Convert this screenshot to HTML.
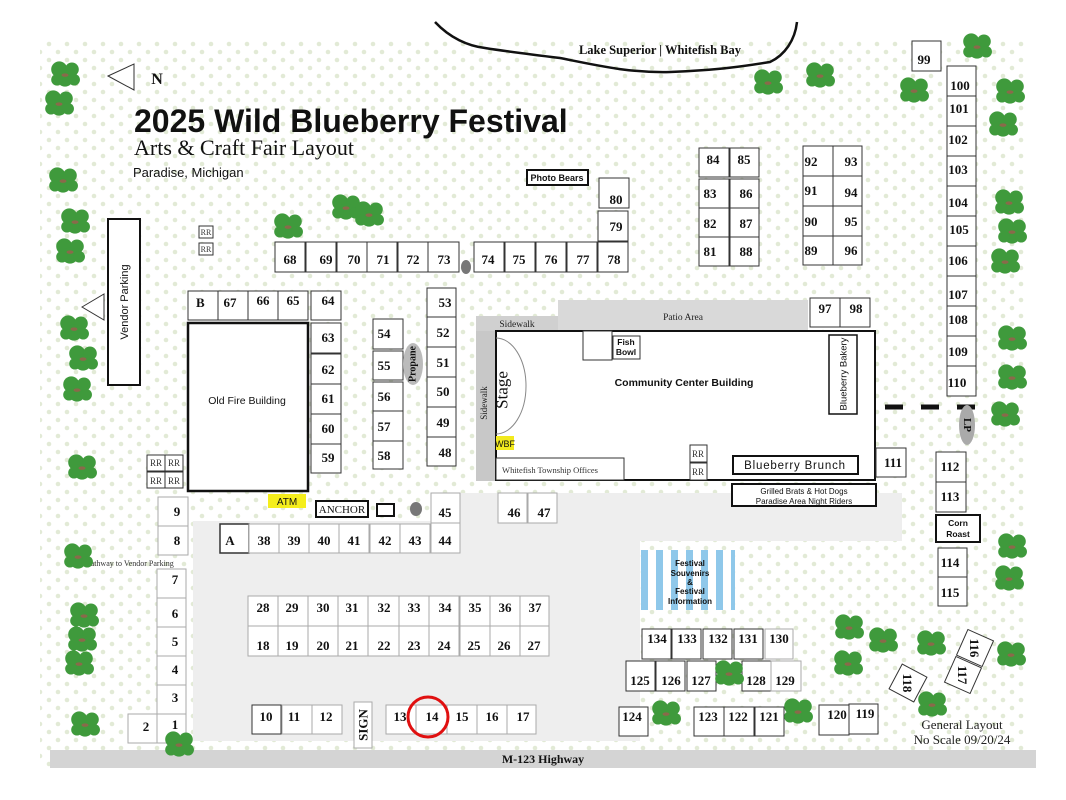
<!DOCTYPE html>
<html><head><meta charset="utf-8"><style>
html,body{margin:0;padding:0;background:#fff}
svg{display:block}
.b{fill:#fff;stroke:#333;stroke-width:1}
.l{fill:#fff;stroke:#aaa;stroke-width:1}
.k{fill:#fff;stroke:#111;stroke-width:2}
.t{font-family:"Liberation Serif",serif;font-weight:bold;font-size:13px;text-anchor:middle;fill:#111}
.s{font-family:"Liberation Sans",sans-serif;font-size:10px;text-anchor:middle;fill:#111}
.r{font-family:"Liberation Serif",serif;font-size:9px;text-anchor:middle;fill:#333}
</style></head><body>
<svg width="1066" height="800" viewBox="0 0 1066 800" xmlns="http://www.w3.org/2000/svg">
<defs>
<pattern id="dots" width="18" height="16" patternUnits="userSpaceOnUse">
<circle cx="4" cy="4" r="2.3" fill="#e2ead6"/><circle cx="13" cy="12" r="2.3" fill="#e2ead6"/>
</pattern>
<g id="tree"><g transform="scale(1.15)"><circle cx="-5" cy="-4" r="7" fill="#3f9a3c"/><circle cx="6" cy="-4" r="6" fill="#3f9a3c"/><circle cx="0" cy="4" r="7" fill="#3f9a3c"/><circle cx="8" cy="5" r="5" fill="#3f9a3c"/><circle cx="-7" cy="5" r="5" fill="#3f9a3c"/><ellipse cx="0" cy="1" rx="3" ry="1.5" fill="#8a6a4a"/></g></g>
</defs>
<rect x="40" y="40" width="985" height="728" fill="url(#dots)"/>
<!-- paved -->
<rect x="455" y="493" width="447" height="48" fill="#eeeeee"/>
<rect x="193" y="521" width="447" height="220" fill="#eeeeee"/>
<rect x="50" y="750" width="986" height="18" fill="#d4d4d4"/>
<text x="543" y="759" class="t" style="font-size:12px" dominant-baseline="central">M-123 Highway</text>
<!-- lake -->
<path d="M435,22 C450,38 468,46 485,48 C510,52 535,55 560,58 C600,66 630,73 670,72 C720,70 745,66 770,62 C785,55 795,40 797,22" fill="none" stroke="#111" stroke-width="2.5"/>
<text x="660" y="54" class="t" style="font-size:12.5px">Lake Superior | Whitefish Bay</text>
<!-- north -->
<path d="M108,76 L134,64 L134,90 Z" fill="#fff" stroke="#333"/>
<text x="157" y="84" class="t" style="font-size:16px">N</text>
<text x="134" y="132" style="font-family:'Liberation Sans',sans-serif;font-weight:bold;font-size:32px;fill:#111">2025  Wild Blueberry Festival</text>
<text x="134" y="155" style="font-family:'Liberation Serif',serif;font-size:22px;fill:#111">Arts &amp; Craft Fair Layout</text>
<text x="133" y="177" style="font-family:'Liberation Sans',sans-serif;font-size:13px;fill:#111">Paradise, Michigan</text>
<!-- vendor parking -->
<rect x="108" y="219" width="32" height="166" fill="#fff" stroke="#111" stroke-width="2"/>
<text transform="translate(128,302) rotate(-90)" class="s" style="font-size:11px">Vendor Parking</text>
<path d="M82,307 L104,294 L104,320 Z" fill="#fff" stroke="#333"/>
<rect x="199" y="226" width="14" height="12" class="b"/><text x="206" y="235" class="r" style="font-size:8px">RR</text>
<rect x="199" y="243" width="14" height="12" class="b"/><text x="206" y="252" class="r" style="font-size:8px">RR</text>
<!-- photo bears -->
<rect x="527" y="170" width="61" height="15" class="k"/><text x="557" y="181" class="s" style="font-weight:bold;font-size:9px">Photo Bears</text>
<!-- row 68-78 -->
<g>
<rect x="275" y="242" width="30" height="30" class="b"/><text x="290" y="264" class="t">68</text>
<rect x="306" y="242" width="30" height="30" class="b"/><text x="326" y="264" class="t">69</text>
<rect x="337" y="242" width="30" height="30" class="b"/><text x="354" y="264" class="t">70</text>
<rect x="367" y="242" width="30" height="30" class="b"/><text x="383" y="264" class="t">71</text>
<rect x="398" y="242" width="30" height="30" class="b"/><text x="413" y="264" class="t">72</text>
<rect x="428" y="242" width="31" height="30" class="b"/><text x="444" y="264" class="t">73</text>
<ellipse cx="466" cy="267" rx="5" ry="7" fill="#777"/>
<rect x="474" y="242" width="30" height="30" class="b"/><text x="488" y="264" class="t">74</text>
<rect x="505" y="242" width="30" height="30" class="b"/><text x="519" y="264" class="t">75</text>
<rect x="536" y="242" width="30" height="30" class="b"/><text x="551" y="264" class="t">76</text>
<rect x="567" y="242" width="30" height="30" class="b"/><text x="583" y="264" class="t">77</text>
<rect x="598" y="242" width="30" height="30" class="b"/><text x="614" y="264" class="t">78</text>
<rect x="598" y="211" width="30" height="30" class="b"/><text x="616" y="231" class="t">79</text>
<rect x="599" y="178" width="30" height="30" class="b"/><text x="616" y="204" class="t">80</text>
</g>
<!-- 81-96 -->
<rect x="699" y="148" width="30" height="29" class="b"/><text x="713" y="164" class="t">84</text>
<rect x="730" y="148" width="29" height="29" class="b"/><text x="744" y="164" class="t">85</text>
<rect x="699" y="179" width="30" height="29" class="b"/><text x="710" y="198" class="t">83</text>
<rect x="730" y="179" width="29" height="29" class="b"/><text x="746" y="198" class="t">86</text>
<rect x="699" y="208" width="30" height="29" class="b"/><text x="710" y="228" class="t">82</text>
<rect x="730" y="208" width="29" height="29" class="b"/><text x="746" y="228" class="t">87</text>
<rect x="699" y="237" width="30" height="29" class="b"/><text x="710" y="256" class="t">81</text>
<rect x="730" y="237" width="29" height="29" class="b"/><text x="746" y="256" class="t">88</text>
<rect x="803" y="146" width="30" height="30" class="b"/><text x="811" y="166" class="t">92</text>
<rect x="833" y="146" width="29" height="30" class="b"/><text x="851" y="166" class="t">93</text>
<rect x="803" y="176" width="30" height="30" class="b"/><text x="811" y="195" class="t">91</text>
<rect x="833" y="176" width="29" height="30" class="b"/><text x="851" y="197" class="t">94</text>
<rect x="803" y="206" width="30" height="30" class="b"/><text x="811" y="226" class="t">90</text>
<rect x="833" y="206" width="29" height="30" class="b"/><text x="851" y="226" class="t">95</text>
<rect x="803" y="236" width="30" height="29" class="b"/><text x="811" y="255" class="t">89</text>
<rect x="833" y="236" width="29" height="29" class="b"/><text x="851" y="255" class="t">96</text>
<!-- 99-110 -->
<rect x="912" y="41" width="29" height="30" class="b"/><text x="924" y="64" class="t">99</text>
<g>
<rect x="947" y="66" width="29" height="30" class="b"/><text x="960" y="90" class="t">100</text>
<rect x="947" y="96" width="29" height="30" class="b"/><text x="959" y="113" class="t">101</text>
<rect x="947" y="126" width="29" height="30" class="b"/><text x="958" y="144" class="t">102</text>
<rect x="947" y="156" width="29" height="30" class="b"/><text x="958" y="174" class="t">103</text>
<rect x="947" y="186" width="29" height="30" class="b"/><text x="958" y="207" class="t">104</text>
<rect x="947" y="216" width="29" height="30" class="b"/><text x="959" y="234" class="t">105</text>
<rect x="947" y="246" width="29" height="30" class="b"/><text x="958" y="265" class="t">106</text>
<rect x="947" y="276" width="29" height="30" class="b"/><text x="958" y="299" class="t">107</text>
<rect x="947" y="306" width="29" height="30" class="b"/><text x="958" y="324" class="t">108</text>
<rect x="947" y="336" width="29" height="30" class="b"/><text x="958" y="356" class="t">109</text>
<rect x="947" y="366" width="29" height="30" class="b"/><text x="957" y="387" class="t">110</text>
</g>
<line x1="885" y1="407" x2="977" y2="407" stroke="#111" stroke-width="5" stroke-dasharray="18,18"/>
<ellipse cx="967" cy="425" rx="8" ry="20" fill="#aaa"/>
<text transform="translate(967,425) rotate(90)" class="t" style="font-size:11px" dominant-baseline="central">LP</text>
<!-- B 67 66 65 64 -->
<rect x="188" y="291" width="30" height="29" class="b"/><text x="196" y="307" class="t" style="text-anchor:start">B</text>
<rect x="218" y="291" width="30" height="29" class="b"/><text x="230" y="307" class="t">67</text>
<rect x="248" y="291" width="30" height="29" class="b"/><text x="263" y="305" class="t">66</text>
<rect x="278" y="291" width="30" height="29" class="b"/><text x="293" y="305" class="t">65</text>
<rect x="311" y="291" width="30" height="29" class="b"/><text x="328" y="305" class="t">64</text>
<rect x="311" y="323" width="30" height="30" class="b"/><text x="328" y="342" class="t">63</text>
<rect x="311" y="354" width="30" height="30" class="b"/><text x="328" y="374" class="t">62</text>
<rect x="311" y="384" width="30" height="30" class="b"/><text x="328" y="403" class="t">61</text>
<rect x="311" y="414" width="30" height="30" class="b"/><text x="328" y="433" class="t">60</text>
<rect x="311" y="444" width="30" height="29" class="b"/><text x="328" y="462" class="t">59</text>
<rect x="188" y="323" width="120" height="168" fill="#fff" stroke="#111" stroke-width="2.5"/>
<text x="247" y="404" class="s" style="font-size:10.5px">Old Fire Building</text>
<!-- 54-58 -->
<rect x="373" y="319" width="30" height="30" class="b"/><text x="384" y="338" class="t">54</text>
<rect x="373" y="351" width="30" height="29" class="b"/><text x="384" y="370" class="t">55</text>
<rect x="373" y="382" width="30" height="29" class="b"/><text x="384" y="401" class="t">56</text>
<rect x="373" y="411" width="30" height="30" class="b"/><text x="384" y="431" class="t">57</text>
<rect x="373" y="441" width="30" height="28" class="b"/><text x="384" y="460" class="t">58</text>
<ellipse cx="413" cy="364" rx="10" ry="21" fill="#bbb"/>
<text transform="translate(413,364) rotate(-90)" class="t" style="font-size:10px" dominant-baseline="central">Propane</text>
<!-- 48-53 -->
<rect x="427" y="288" width="29" height="29" class="b"/><text x="445" y="307" class="t">53</text>
<rect x="427" y="317" width="29" height="30" class="b"/><text x="443" y="337" class="t">52</text>
<rect x="427" y="347" width="29" height="30" class="b"/><text x="443" y="367" class="t">51</text>
<rect x="427" y="377" width="29" height="30" class="b"/><text x="443" y="396" class="t">50</text>
<rect x="427" y="407" width="29" height="30" class="b"/><text x="443" y="427" class="t">49</text>
<rect x="427" y="437" width="29" height="29" class="b"/><text x="445" y="457" class="t">48</text>
<!-- community center -->
<rect x="558" y="300" width="250" height="31" fill="#d9d9d9"/>
<text x="683" y="320" class="r" style="font-size:9.5px;fill:#222">Patio Area</text>
<rect x="476" y="316" width="82" height="15" fill="#d0d0d0"/>
<text x="517" y="327" class="r" style="font-size:9.5px;fill:#222">Sidewalk</text>
<rect x="476" y="331" width="19" height="150" fill="#c8c8c8"/>
<text transform="translate(487,403) rotate(-90)" class="r" style="font-size:9px;fill:#222">Sidewalk</text>
<rect x="810" y="298" width="30" height="29" class="b"/><text x="825" y="313" class="t">97</text>
<rect x="840" y="298" width="30" height="29" class="b"/><text x="856" y="313" class="t">98</text>
<rect x="496" y="331" width="379" height="149" fill="#fff" stroke="#111" stroke-width="2"/>
<path d="M496,338 A30,48 0 0,1 496,434" fill="none" stroke="#888"/>
<text transform="translate(502,390) rotate(-90)" style="font-family:'Liberation Serif',serif;font-size:17px;text-anchor:middle;fill:#111" dominant-baseline="central">Stage</text>
<rect x="496" y="436" width="18" height="14" fill="#f2ea1e"/>
<text x="505" y="447" class="s" style="font-size:9px">WBF</text>
<rect x="496" y="458" width="128" height="22" fill="#fff" stroke="#333"/>
<text x="550" y="473" class="r" style="font-size:8.5px">Whitefish Township Offices</text>
<rect x="583" y="331" width="29" height="29" class="b"/>
<rect x="613" y="336" width="27" height="23" class="b"/>
<text x="626" y="345" class="s" style="font-weight:bold;font-size:8.5px">Fish</text><text x="626" y="355" class="s" style="font-weight:bold;font-size:8.5px">Bowl</text>
<text x="684" y="386" class="s" style="font-weight:bold;font-size:10.5px">Community Center Building</text>
<rect x="829" y="335" width="28" height="79" fill="#fff" stroke="#111" stroke-width="1.5"/>
<text transform="translate(844,374) rotate(-90)" class="s" style="font-size:9.5px" dominant-baseline="central">Blueberry Bakery</text>
<rect x="690" y="445" width="17" height="17" class="b"/><text x="698" y="457" class="r">RR</text>
<rect x="690" y="463" width="17" height="17" class="b"/><text x="698" y="475" class="r">RR</text>
<rect x="733" y="456" width="125" height="18" fill="#fff" stroke="#111" stroke-width="2"/>
<text x="795" y="469" class="s" style="font-size:11.5px;letter-spacing:0.8px">Blueberry Brunch</text>
<rect x="732" y="484" width="144" height="22" fill="#fff" stroke="#111" stroke-width="2"/>
<text x="804" y="494" class="s" style="font-size:8px">Grilled Brats &amp; Hot Dogs</text>
<text x="804" y="504" class="s" style="font-size:8px">Paradise Area Night Riders</text>
<rect x="876" y="448" width="30" height="29" class="b"/><text x="893" y="467" class="t">111</text>
<rect x="936" y="452" width="30" height="30" class="b"/><text x="950" y="471" class="t">112</text>
<rect x="936" y="482" width="30" height="30" class="b"/><text x="950" y="501" class="t">113</text>
<rect x="936" y="515" width="44" height="27" fill="#fff" stroke="#111" stroke-width="2"/>
<text x="958" y="526" class="s" style="font-weight:bold;font-size:8.5px">Corn</text><text x="958" y="537" class="s" style="font-weight:bold;font-size:8.5px">Roast</text>
<rect x="938" y="548" width="29" height="29" class="b"/><text x="950" y="567" class="t">114</text>
<rect x="938" y="577" width="29" height="29" class="b"/><text x="950" y="597" class="t">115</text>
<!-- left column -->
<rect x="147" y="455" width="18" height="16" class="b"/><text x="156" y="466" class="r">RR</text>
<rect x="165" y="455" width="18" height="16" class="b"/><text x="174" y="466" class="r">RR</text>
<rect x="147" y="472" width="18" height="16" class="b"/><text x="156" y="484" class="r">RR</text>
<rect x="165" y="472" width="18" height="16" class="b"/><text x="174" y="484" class="r">RR</text>
<rect x="158" y="497" width="30" height="29" class="l"/><text x="177" y="516" class="t">9</text>
<rect x="158" y="526" width="30" height="29" class="l"/><text x="177" y="545" class="t">8</text>
<text x="130" y="566" class="r" style="font-size:8px">Pathway to Vendor Parking</text>
<rect x="157" y="569" width="29" height="29" class="l"/><text x="175" y="584" class="t">7</text>
<rect x="157" y="598" width="29" height="29" class="l"/><text x="175" y="618" class="t">6</text>
<rect x="157" y="627" width="29" height="29" class="l"/><text x="175" y="646" class="t">5</text>
<rect x="157" y="656" width="29" height="29" class="l"/><text x="175" y="674" class="t">4</text>
<rect x="157" y="685" width="29" height="29" class="l"/><text x="175" y="702" class="t">3</text>
<rect x="157" y="714" width="29" height="29" class="l"/><text x="175" y="729" class="t">1</text>
<rect x="128" y="714" width="29" height="29" class="l"/><text x="146" y="731" class="t">2</text>
<!-- ATM etc -->
<rect x="268" y="494" width="38" height="14" fill="#f5ee1c"/>
<text x="287" y="505" class="s" style="font-size:10px">ATM</text>
<rect x="316" y="501" width="52" height="16" fill="#fff" stroke="#111" stroke-width="2"/>
<text x="342" y="513" class="r" style="font-size:11px;fill:#111">ANCHOR</text>
<rect x="377" y="504" width="17" height="12" fill="#fff" stroke="#111" stroke-width="2"/>
<ellipse cx="416" cy="509" rx="6" ry="7" fill="#777"/>
<rect x="431" y="493" width="29" height="30" class="l"/><text x="445" y="517" class="t">45</text>
<rect x="498" y="493" width="29" height="30" class="l"/><text x="514" y="517" class="t">46</text>
<rect x="528" y="493" width="29" height="30" class="l"/><text x="544" y="517" class="t">47</text>
<rect x="220" y="524" width="29" height="29" fill="#fff" stroke="#333" stroke-width="1.5"/><text x="230" y="545" class="t">A</text>
<g>
<rect x="249" y="524" width="30" height="29" class="l"/><text x="264" y="545" class="t">38</text>
<rect x="279" y="524" width="30" height="29" class="l"/><text x="294" y="545" class="t">39</text>
<rect x="309" y="524" width="30" height="29" class="l"/><text x="324" y="545" class="t">40</text>
<rect x="339" y="524" width="30" height="29" class="l"/><text x="354" y="545" class="t">41</text>
<rect x="370" y="524" width="30" height="29" class="l"/><text x="385" y="545" class="t">42</text>
<rect x="400" y="524" width="30" height="29" class="l"/><text x="415" y="545" class="t">43</text>
<rect x="431" y="523" width="29" height="30" class="l"/><text x="445" y="545" class="t">44</text>
</g>
<g>
<rect x="248" y="596" width="30" height="30" class="l"/><text x="263" y="612" class="t">28</text>
<rect x="278" y="596" width="30" height="30" class="l"/><text x="292" y="612" class="t">29</text>
<rect x="308" y="596" width="30" height="30" class="l"/><text x="323" y="612" class="t">30</text>
<rect x="338" y="596" width="30" height="30" class="l"/><text x="352" y="612" class="t">31</text>
<rect x="368" y="596" width="31" height="30" class="l"/><text x="384" y="612" class="t">32</text>
<rect x="399" y="596" width="30" height="30" class="l"/><text x="414" y="612" class="t">33</text>
<rect x="429" y="596" width="30" height="30" class="l"/><text x="445" y="612" class="t">34</text>
<rect x="460" y="596" width="30" height="30" class="l"/><text x="475" y="612" class="t">35</text>
<rect x="490" y="596" width="30" height="30" class="l"/><text x="505" y="612" class="t">36</text>
<rect x="520" y="596" width="29" height="30" class="l"/><text x="535" y="612" class="t">37</text>
<rect x="248" y="626" width="30" height="30" class="l"/><text x="263" y="650" class="t">18</text>
<rect x="278" y="626" width="30" height="30" class="l"/><text x="292" y="650" class="t">19</text>
<rect x="308" y="626" width="30" height="30" class="l"/><text x="323" y="650" class="t">20</text>
<rect x="338" y="626" width="30" height="30" class="l"/><text x="352" y="650" class="t">21</text>
<rect x="368" y="626" width="31" height="30" class="l"/><text x="384" y="650" class="t">22</text>
<rect x="399" y="626" width="30" height="30" class="l"/><text x="414" y="650" class="t">23</text>
<rect x="429" y="626" width="30" height="30" class="l"/><text x="444" y="650" class="t">24</text>
<rect x="460" y="626" width="30" height="30" class="l"/><text x="474" y="650" class="t">25</text>
<rect x="490" y="626" width="30" height="30" class="l"/><text x="504" y="650" class="t">26</text>
<rect x="520" y="626" width="29" height="30" class="l"/><text x="534" y="650" class="t">27</text>
</g>
<rect x="252" y="705" width="29" height="29" class="b"/><text x="266" y="721" class="t">10</text>
<rect x="282" y="705" width="30" height="29" class="l"/><text x="294" y="721" class="t">11</text>
<rect x="312" y="705" width="30" height="29" class="l"/><text x="326" y="721" class="t">12</text>
<rect x="354" y="702" width="18" height="46" class="l"/>
<text transform="translate(363,725) rotate(-90)" class="t" style="font-size:13px" dominant-baseline="central">SIGN</text>
<rect x="386" y="705" width="30" height="29" class="l"/><text x="400" y="721" class="t">13</text>
<rect x="416" y="705" width="31" height="29" class="l"/><text x="432" y="721" class="t">14</text>
<rect x="447" y="705" width="30" height="29" class="l"/><text x="462" y="721" class="t">15</text>
<rect x="477" y="705" width="30" height="29" class="l"/><text x="492" y="721" class="t">16</text>
<rect x="507" y="705" width="29" height="29" class="l"/><text x="523" y="721" class="t">17</text>
<circle cx="428" cy="717" r="20" fill="none" stroke="#e01010" stroke-width="3"/>
<!-- souvenirs -->
<g>
<rect x="641" y="550" width="94" height="60" fill="#fff"/>
<rect x="641" y="550" width="7" height="60" fill="#8fc8ea"/><rect x="656" y="550" width="7" height="60" fill="#8fc8ea"/><rect x="671" y="550" width="7" height="60" fill="#8fc8ea"/><rect x="686" y="550" width="7" height="60" fill="#8fc8ea"/><rect x="701" y="550" width="7" height="60" fill="#8fc8ea"/><rect x="716" y="550" width="7" height="60" fill="#8fc8ea"/><rect x="731" y="550" width="4" height="60" fill="#8fc8ea"/>
<text x="690" y="566" class="s" style="font-weight:bold;font-size:8px">Festival</text>
<text x="690" y="576" class="s" style="font-weight:bold;font-size:8px">Souvenirs</text>
<text x="690" y="585" class="s" style="font-weight:bold;font-size:8px">&amp;</text>
<text x="690" y="594" class="s" style="font-weight:bold;font-size:8px">Festival</text>
<text x="690" y="604" class="s" style="font-weight:bold;font-size:8px">Information</text>
</g>
<rect x="642" y="629" width="29" height="30" class="b"/><text x="657" y="643" class="t">134</text>
<rect x="672" y="629" width="29" height="30" class="b"/><text x="687" y="643" class="t">133</text>
<rect x="703" y="629" width="29" height="30" class="b"/><text x="718" y="643" class="t">132</text>
<rect x="734" y="629" width="29" height="30" class="b"/><text x="748" y="643" class="t">131</text>
<rect x="765" y="629" width="28" height="30" class="l"/><text x="779" y="643" class="t">130</text>
<rect x="626" y="661" width="29" height="30" class="b"/><text x="640" y="685" class="t">125</text>
<rect x="656" y="661" width="29" height="30" class="b"/><text x="671" y="685" class="t">126</text>
<rect x="687" y="661" width="29" height="30" class="b"/><text x="701" y="685" class="t">127</text>
<rect x="742" y="661" width="29" height="30" class="b"/><text x="756" y="685" class="t">128</text>
<rect x="771" y="661" width="30" height="30" class="l"/><text x="785" y="685" class="t">129</text>
<rect x="619" y="707" width="29" height="29" class="b"/><text x="632" y="721" class="t">124</text>
<rect x="694" y="707" width="30" height="29" class="b"/><text x="708" y="721" class="t">123</text>
<rect x="724" y="707" width="30" height="29" class="b"/><text x="738" y="721" class="t">122</text>
<rect x="755" y="707" width="29" height="29" class="b"/><text x="769" y="721" class="t">121</text>
<rect x="819" y="705" width="30" height="30" class="b"/><text x="837" y="719" class="t">120</text>
<rect x="849" y="704" width="29" height="30" class="b"/><text x="865" y="718" class="t">119</text>
<g transform="translate(908,683) rotate(28)">
<rect x="-14" y="-14" width="28" height="28" class="b"/>
<text transform="rotate(62)" y="5" class="t">118</text>
</g>
<g transform="translate(975,648) rotate(24)">
<rect x="-14" y="-14" width="28" height="28" class="b"/>
<text transform="rotate(66)" y="5" class="t">116</text>
</g>
<g transform="translate(963,675) rotate(24)">
<rect x="-14" y="-14" width="28" height="28" class="b"/>
<text transform="rotate(66)" y="5" class="t">117</text>
</g>
<text x="962" y="729" style="font-family:'Liberation Serif',serif;font-size:13px;text-anchor:middle;fill:#222">General Layout</text>
<text x="962" y="744" style="font-family:'Liberation Serif',serif;font-size:13px;text-anchor:middle;fill:#222">No Scale 09/20/24</text>
<!-- trees -->
<use href="#tree" x="65" y="74"/><use href="#tree" x="59" y="103"/><use href="#tree" x="63" y="180"/><use href="#tree" x="75" y="221"/><use href="#tree" x="70" y="251"/>
<use href="#tree" x="74" y="328"/><use href="#tree" x="83" y="358"/><use href="#tree" x="77" y="389"/><use href="#tree" x="82" y="467"/><use href="#tree" x="78" y="556"/>
<use href="#tree" x="84" y="615"/><use href="#tree" x="82" y="639"/><use href="#tree" x="79" y="663"/><use href="#tree" x="85" y="724"/><use href="#tree" x="179" y="744"/>
<use href="#tree" x="288" y="226"/><use href="#tree" x="346" y="207"/><use href="#tree" x="369" y="214"/><use href="#tree" x="768" y="82"/><use href="#tree" x="820" y="75"/>
<use href="#tree" x="914" y="90"/><use href="#tree" x="977" y="46"/><use href="#tree" x="1010" y="91"/><use href="#tree" x="1003" y="124"/><use href="#tree" x="1009" y="202"/>
<use href="#tree" x="1012" y="231"/><use href="#tree" x="1005" y="261"/><use href="#tree" x="1012" y="338"/><use href="#tree" x="1012" y="377"/><use href="#tree" x="1005" y="414"/>
<use href="#tree" x="1012" y="546"/><use href="#tree" x="1009" y="578"/><use href="#tree" x="1011" y="654"/><use href="#tree" x="849" y="627"/><use href="#tree" x="883" y="640"/>
<use href="#tree" x="848" y="663"/><use href="#tree" x="931" y="643"/><use href="#tree" x="666" y="713"/><use href="#tree" x="729" y="673"/><use href="#tree" x="798" y="711"/><use href="#tree" x="932" y="704"/>
</svg>
</body></html>
